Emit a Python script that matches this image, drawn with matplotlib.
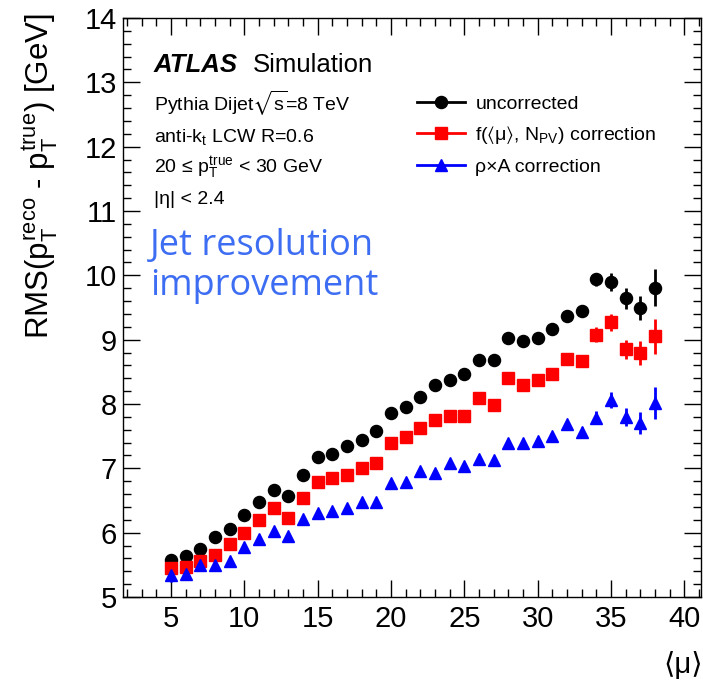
import matplotlib
matplotlib.use("Agg")
import matplotlib.pyplot as plt
from matplotlib.lines import Line2D
from matplotlib.ticker import MultipleLocator

plt.rcParams['font.family'] = ['Liberation Sans', 'DejaVu Sans']
plt.rcParams['mathtext.fontset'] = 'custom'
plt.rcParams['mathtext.rm'] = 'Liberation Sans'
plt.rcParams['mathtext.it'] = 'Liberation Sans'
plt.rcParams['mathtext.bf'] = 'Liberation Sans:bold'
plt.rcParams['mathtext.fallback'] = 'stixsans'

# <mu> bins
mu = list(range(5, 39))

# RMS values [GeV]
uncorrected = [5.57, 5.64, 5.75, 5.93, 6.05, 6.27, 6.47, 6.66, 6.57, 6.89,
               7.18, 7.23, 7.34, 7.44, 7.58, 7.86, 7.96, 8.11, 8.30, 8.37,
               8.46, 8.68, 8.68, 9.03, 8.98, 9.03, 9.17, 9.37, 9.45, 9.94,
               9.90, 9.64, 9.49, 9.81]
uncorrected_err = [0.10, 0.09, 0.09, 0.08, 0.06, 0.05, 0.05, 0.05, 0.05, 0.05,
                   0.05, 0.05, 0.05, 0.05, 0.05, 0.05, 0.05, 0.05, 0.05, 0.05,
                   0.05, 0.05, 0.05, 0.05, 0.05, 0.05, 0.06, 0.06, 0.07, 0.10,
                   0.14, 0.16, 0.19, 0.29]

fcorr = [5.45, 5.47, 5.56, 5.65, 5.82, 6.00, 6.20, 6.38, 6.23, 6.54,
         6.79, 6.85, 6.89, 7.00, 7.09, 7.39, 7.49, 7.62, 7.75, 7.82,
         7.82, 8.09, 7.98, 8.40, 8.29, 8.37, 8.47, 8.70, 8.67, 9.08,
         9.27, 8.85, 8.79, 9.05]
fcorr_err = [0.09, 0.09, 0.08, 0.08, 0.06, 0.05, 0.05, 0.05, 0.05, 0.05,
             0.05, 0.05, 0.05, 0.05, 0.05, 0.05, 0.05, 0.05, 0.05, 0.05,
             0.05, 0.05, 0.05, 0.05, 0.05, 0.05, 0.06, 0.06, 0.07, 0.12,
             0.13, 0.15, 0.19, 0.27]

rhoA = [5.34, 5.36, 5.50, 5.49, 5.56, 5.77, 5.90, 6.03, 5.95, 6.22,
        6.30, 6.34, 6.39, 6.47, 6.48, 6.77, 6.79, 6.96, 6.93, 7.08,
        7.04, 7.15, 7.13, 7.40, 7.40, 7.42, 7.51, 7.69, 7.57, 7.79,
        8.06, 7.80, 7.71, 8.02]
rhoA_err = [0.10, 0.10, 0.09, 0.08, 0.06, 0.05, 0.05, 0.05, 0.05, 0.05,
            0.05, 0.05, 0.05, 0.05, 0.05, 0.05, 0.05, 0.05, 0.05, 0.05,
            0.05, 0.05, 0.05, 0.05, 0.05, 0.05, 0.06, 0.06, 0.07, 0.10,
            0.12, 0.14, 0.17, 0.25]

labels = ["uncorrected",
          r"f($\langle\mathrm{\mu}\rangle$, N$_{\mathrm{PV}}$) correction",
          "ρ×A correction"]


def main():
    fig = plt.figure(figsize=(7.03, 6.86), dpi=100)
    ax = fig.add_axes([0.1745, 0.1297, 0.8227, 0.8441])

    ax.errorbar(mu, uncorrected, yerr=uncorrected_err, fmt='o', color='black',
                ms=8.7, elinewidth=2, capsize=0)
    ax.errorbar(mu, fcorr, yerr=fcorr_err, fmt='s', color='#ff0000',
                ms=9, elinewidth=2, capsize=0)
    ax.errorbar(mu, rhoA, yerr=rhoA_err, fmt='^', color='#0000ff',
                ms=9, elinewidth=2, capsize=0)

    ax.set_xlim(1.7, 41.15)
    ax.set_ylim(5, 14)
    ax.xaxis.set_major_locator(MultipleLocator(5))
    ax.xaxis.set_minor_locator(MultipleLocator(1))
    ax.yaxis.set_major_locator(MultipleLocator(1))
    ax.yaxis.set_minor_locator(MultipleLocator(0.2))
    ax.tick_params(which='both', direction='in', top=True, right=True,
                   width=1.0, labelsize=21)
    ax.tick_params(which='major', length=12)
    ax.tick_params(which='minor', length=5.5)
    ax.tick_params(axis='x', pad=6)
    ax.tick_params(axis='y', pad=4)
    for s in ax.spines.values():
        s.set_linewidth(1.0)

    # axis titles (ROOT style: aligned to the ends)
    fig.text(40 / 703, 1 - 13 / 686,
             r"RMS($p_{T}^{reco}$ - $p_{T}^{true}$) [GeV]",
             rotation=90, ha='center', va='top', fontsize=22.5)
    fig.text(683 / 703, 1 - 665 / 686, "⟨μ⟩", ha='center', va='center',
             fontsize=21)

    # ATLAS label
    fig.text(154 / 703, 1 - 72 / 686, "ATLAS", fontsize=18.5,
             fontweight='bold', fontstyle='italic', va='baseline')
    fig.text(253 / 703, 1 - 72 / 686, "Simulation", fontsize=18.5,
             va='baseline')

    info = ["Pythia Dijet$\\sqrt{s}$=8 TeV",
            "anti-k$_{t}$ LCW R=0.6",
            "20 ≤ $p_{T}^{true}$ < 30 GeV",
            "|η| < 2.4"]
    base = [111, 142, 173, 204]
    for txt, yb in zip(info, base):
        fig.text(154 / 703, 1 - yb / 686, txt, fontsize=14, va='baseline')

    fig.text(150 / 703, 1 - 266 / 686, "Jet resolution\nimprovement",
             fontsize=26, color='#3d6df2', va='center', ha='left',
             family='Open Sans', linespacing=1.15)

    handles = [Line2D([], [], color='black', marker='o', ms=8.7, lw=2),
               Line2D([], [], color='#ff0000', marker='s', ms=9, lw=2),
               Line2D([], [], color='#0000ff', marker='^', ms=9, lw=2)]
    ax.legend(handles, labels, loc='upper left',
              bbox_to_anchor=(417 / 703, 1 - 95 / 686),
              bbox_transform=fig.transFigure, frameon=False, fontsize=14,
              handlelength=2.45, handletextpad=0.55, labelspacing=0.6,
              borderpad=0, borderaxespad=0, numpoints=1)

    fig.savefig("out.png", dpi=100)


if __name__ == "__main__":
    main()
